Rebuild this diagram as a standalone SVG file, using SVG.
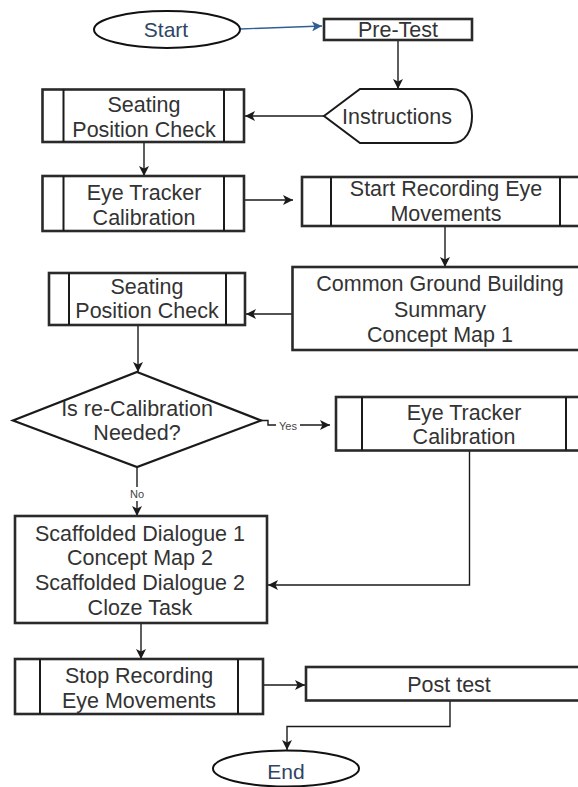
<svg xmlns="http://www.w3.org/2000/svg" width="578" height="787" viewBox="0 0 578 787">
<defs>
<style>
.bx{fill:#fff;stroke:#2a2a2a;stroke-width:2.6}
.pl{stroke:#1a1a1a;stroke-width:2;fill:none}
.t{font-family:"Liberation Sans",Arial,sans-serif;font-size:21.5px;fill:#333;text-anchor:middle}
.tb{font-family:"Liberation Sans",Arial,sans-serif;font-size:21px;fill:#2e4566;text-anchor:middle}
.lb{font-family:"Liberation Sans",Arial,sans-serif;font-size:11px;fill:#444;text-anchor:middle}
.c{fill:none;stroke:#1a1a1a;stroke-width:1.4}
.cb{fill:none;stroke:#2f5f96;stroke-width:1.4}
</style>
<marker id="ah" viewBox="0 0 10 10" refX="10" refY="5" markerWidth="10" markerHeight="10" markerUnits="userSpaceOnUse" orient="auto">
<path d="M0,0 L10,5 L0,10 L2.5,5 Z" fill="#1a1a1a"/>
</marker>
<marker id="ahb" viewBox="0 0 10 10" refX="10" refY="5" markerWidth="10" markerHeight="10" markerUnits="userSpaceOnUse" orient="auto">
<path d="M0,0 L10,5 L0,10 L2.5,5 Z" fill="#2f5f96"/>
</marker>
</defs>
<rect width="578" height="787" fill="#fff"/>

<g id="connectors">
<path class="cb" d="M240,29 L322,26" marker-end="url(#ahb)"/>
<path class="c" d="M398,40 V89" marker-end="url(#ah)"/>
<path class="c" d="M324,116 H245" marker-end="url(#ah)"/>
<path class="c" d="M144,142 V176" marker-end="url(#ah)"/>
<path class="c" d="M244,200 H293" marker-end="url(#ah)"/>
<path class="c" d="M445,226 V267" marker-end="url(#ah)"/>
<path class="c" d="M292.5,314 H246" marker-end="url(#ah)"/>
<path class="c" d="M138,325 V372" marker-end="url(#ah)"/>
<path class="c" d="M257,420.5 H268 V425 H330" marker-end="url(#ah)"/>
<rect x="276" y="419" width="24" height="13" fill="#fff"/>
<text class="lb" x="288" y="429.5">Yes</text>
<path class="c" d="M137,467 V516" marker-end="url(#ah)"/>
<rect x="128" y="487" width="18" height="14" fill="#fff"/>
<text class="lb" x="137" y="498">No</text>
<path class="c" d="M469.5,450.5 V585 H268" marker-end="url(#ah)"/>
<path class="c" d="M141,623 V659" marker-end="url(#ah)"/>
<path class="c" d="M263,685 H305" marker-end="url(#ah)"/>
<path class="c" d="M450,700.5 V726.5 H287 V750" marker-end="url(#ah)"/>
</g>

<g id="start">
<ellipse cx="167" cy="29.5" rx="73" ry="18.5" fill="#fff" stroke="#111" stroke-width="2"/>
<text class="tb" x="166" y="37">Start</text>
</g>

<g id="pretest">
<rect class="bx" x="324" y="19" width="148" height="21"/>
<text class="t" x="398" y="37">Pre-Test</text>
</g>

<g id="instructions">
<path d="M324,116 L360,89 L452,89 C466,89 472,102 472,116 C472,130 466,143 452,143 L360,143 Z" fill="#fff" stroke="#1a1a1a" stroke-width="2"/>
<text class="t" x="397" y="124">Instructions</text>
</g>

<g id="seating1">
<rect class="bx" x="42.5" y="89.5" width="201.5" height="52.5"/>
<path class="pl" d="M63.5,89.5 V142 M224,89.5 V142"/>
<text class="t" x="144" y="112">Seating</text>
<text class="t" x="144" y="137">Position Check</text>
</g>

<g id="eyetracker1">
<rect class="bx" x="42.5" y="176" width="201.5" height="55"/>
<path class="pl" d="M63.5,176 V231 M224,176 V231"/>
<text class="t" x="144" y="200">Eye Tracker</text>
<text class="t" x="144" y="224.5">Calibration</text>
</g>

<g id="startrecording">
<rect class="bx" x="302" y="177" width="290" height="49"/>
<path class="pl" d="M331,177 V226 M560,177 V226"/>
<text class="t" x="446" y="196">Start Recording Eye</text>
<text class="t" x="446" y="220.5">Movements</text>
</g>

<g id="commonground">
<rect class="bx" x="292.5" y="267" width="300" height="83"/>
<text class="t" x="440" y="291">Common Ground Building</text>
<text class="t" x="440" y="317">Summary</text>
<text class="t" x="440" y="342">Concept Map 1</text>
</g>

<g id="seating2">
<rect class="bx" x="49" y="273" width="196" height="52"/>
<path class="pl" d="M69,273 V325 M226,273 V325"/>
<text class="t" x="147" y="293.5">Seating</text>
<text class="t" x="147" y="318">Position Check</text>
</g>

<g id="decision">
<polygon points="137,372 261,420.5 137,467 13,420.5" fill="#fff" stroke="#1a1a1a" stroke-width="2.2"/>
<text class="t" x="137" y="415.5">Is re-Calibration</text>
<text class="t" x="137" y="440">Needed?</text>
</g>

<g id="eyetracker2">
<rect class="bx" x="336" y="397" width="256" height="53.5"/>
<path class="pl" d="M362,397 V450.5 M566,397 V450.5"/>
<text class="t" x="464" y="419.5">Eye Tracker</text>
<text class="t" x="464" y="444">Calibration</text>
</g>

<g id="scaffolded">
<rect class="bx" x="15" y="516" width="252" height="107"/>
<text class="t" x="140" y="540.5">Scaffolded Dialogue 1</text>
<text class="t" x="140" y="564.5">Concept Map 2</text>
<text class="t" x="140" y="590">Scaffolded Dialogue 2</text>
<text class="t" x="140" y="615">Cloze Task</text>
</g>

<g id="stoprecording">
<rect class="bx" x="15" y="659" width="248" height="55"/>
<path class="pl" d="M40,659 V714 M238,659 V714"/>
<text class="t" x="139" y="682.5">Stop Recording</text>
<text class="t" x="139" y="707.5">Eye Movements</text>
</g>

<g id="posttest">
<rect class="bx" x="306" y="667" width="286" height="33.5"/>
<text class="t" x="449" y="691.5">Post test</text>
</g>

<g id="end">
<ellipse cx="286" cy="768.5" rx="73" ry="18" fill="#fff" stroke="#111" stroke-width="2"/>
<text class="tb" x="286" y="779">End</text>
</g>
</svg>
